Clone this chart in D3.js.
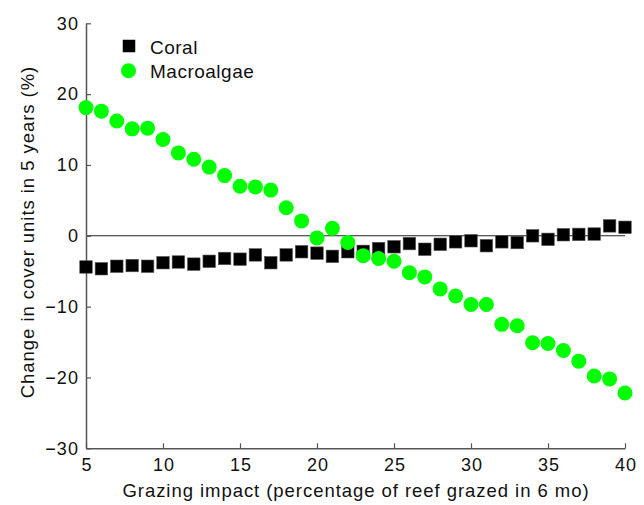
<!DOCTYPE html>
<html>
<head>
<meta charset="utf-8">
<script src="https://cdn.jsdelivr.net/npm/d3@7"></script>
<style>
  html, body { margin: 0; padding: 0; background: #fff; }
  svg { display: block; font-family: "Liberation Sans", Arial, Helvetica, sans-serif; }
</style>
</head>
<body>
<svg id="chart" width="644" height="505"></svg>
<script>
const grazing = [5,6,7,8,9,10,11,12,13,14,15,16,17,18,19,20,21,22,23,24,25,26,27,28,29,30,31,32,33,34,35,36,37,38,39,40];
const coral = [-4.4,-4.65,-4.3,-4.2,-4.3,-3.8,-3.7,-4.0,-3.6,-3.2,-3.3,-2.7,-3.8,-2.7,-2.25,-2.45,-2.9,-2.25,-2.2,-1.8,-1.55,-1.1,-1.9,-1.2,-0.85,-0.7,-1.4,-0.85,-0.95,0.0,-0.5,0.15,0.2,0.25,1.4,1.2];
const macroalgae = [18.1,17.6,16.2,15.1,15.2,13.6,11.7,10.8,9.7,8.5,7.0,6.9,6.45,3.95,2.1,-0.3,1.05,-0.95,-2.8,-3.2,-3.6,-5.2,-5.8,-7.5,-8.5,-9.7,-9.7,-12.5,-12.7,-15.1,-15.2,-16.2,-17.7,-19.8,-20.2,-22.2];
const xTicks = [5,10,15,20,25,30,35,40];
const yTicks = [-30,-20,-10,0,10,20,30];
const seriesNames = ["Coral","Macroalgae"];

const svg = d3.select("#chart");
const x = d3.scaleLinear().domain([5,40]).range([86,625]);
const y = d3.scaleLinear().domain([-30,30]).range([448.3,23.3]);

// zero reference line
svg.append("line")
  .attr("x1", x(5)).attr("x2", x(40))
  .attr("y1", y(0)).attr("y2", y(0))
  .attr("stroke", "#222").attr("stroke-width", 1.1);

// axes
const axisColor = "#555";
const gx = svg.append("g").attr("transform", `translate(0,${y(-30)})`)
  .call(d3.axisBottom(x).tickValues(xTicks).tickSizeInner(-5).tickSizeOuter(0).tickPadding(10).tickFormat(d3.format("d")));
const gy = svg.append("g").attr("transform", `translate(${x(5)},0)`)
  .call(d3.axisLeft(y).tickValues(yTicks).tickSizeInner(-5).tickSizeOuter(0).tickPadding(7)
    .tickFormat(d => d < 0 ? "\u2212" + Math.abs(d) : String(d)));
[gx, gy].forEach(g => {
  g.selectAll("path.domain").attr("stroke", axisColor).attr("stroke-width", 1.5);
  g.selectAll(".tick line").attr("stroke", axisColor).attr("stroke-width", 1.2);
  g.selectAll(".tick text").attr("fill", "#111").style("font-size", "18px")
    .style("letter-spacing", "1.1px").attr("font-family", "Liberation Sans, Arial, sans-serif");
});
gx.selectAll(".tick text").attr("dx", "0.55px");

// coral squares
const sq = 12.5;
svg.append("g").selectAll("rect").data(grazing).join("rect")
  .attr("x", (d,i) => x(d) - sq/2)
  .attr("y", (d,i) => y(coral[i]) - sq/2)
  .attr("width", sq).attr("height", sq)
  .attr("fill", "#000").attr("stroke", "#555").attr("stroke-width", 0.6);

// macroalgae circles
svg.append("g").selectAll("circle").data(grazing).join("circle")
  .attr("cx", d => x(d))
  .attr("cy", (d,i) => y(macroalgae[i]))
  .attr("r", 7.5)
  .attr("fill", "#00ff00");

// legend
const lg = svg.append("g");
lg.append("rect").attr("x", 129 - sq/2).attr("y", 46 - sq/2).attr("width", sq).attr("height", sq).attr("fill", "#000");
lg.append("text").attr("x", 150).attr("y", 54).text(seriesNames[0])
  .style("font-size", "19px").style("letter-spacing", "0.5px").attr("fill", "#111");
lg.append("circle").attr("cx", 128.5).attr("cy", 70.7).attr("r", 7.5).attr("fill", "#00ff00");
lg.append("text").attr("x", 150).attr("y", 77.5).text(seriesNames[1])
  .style("font-size", "19px").style("letter-spacing", "0.5px").attr("fill", "#111");

// axis titles
svg.append("text").attr("x", 356).attr("y", 497).attr("text-anchor", "middle")
  .style("font-size", "18.5px").style("letter-spacing", "0.95px").attr("fill", "#111")
  .text("Grazing impact (percentage of reef grazed in 6 mo)");
svg.append("text").attr("transform", `translate(34,232) rotate(-90)`).attr("text-anchor", "middle")
  .style("font-size", "18.5px").style("letter-spacing", "0.95px").attr("fill", "#111")
  .text("Change in cover units in 5 years (%)");
</script>
</body>
</html>
